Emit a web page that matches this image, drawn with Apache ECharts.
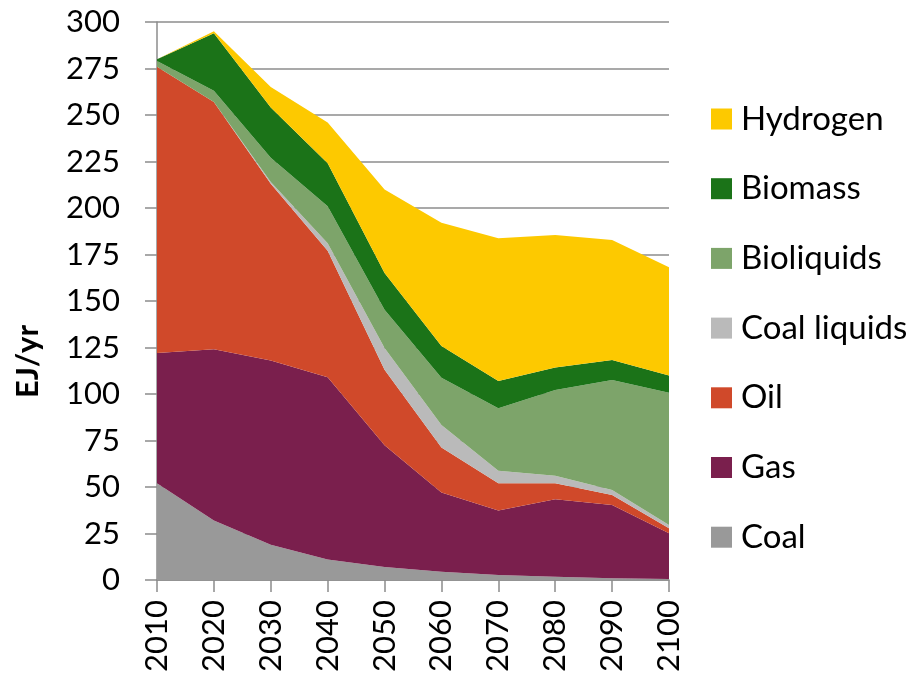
<!DOCTYPE html>
<html>
<head>
<meta charset="utf-8">
<script src="https://cdn.jsdelivr.net/npm/echarts@6/dist/echarts.min.js"></script>
<style>
  html, body { margin: 0; padding: 0; background: #fff; }
  #chart { width: 916px; height: 680px; }
</style>
</head>
<body>
<div id="chart"></div>
<script>
const years = ['2010', '2020', '2030', '2040', '2050', '2060', '2070', '2080', '2090', '2100'];

const coal = [52, 32, 19, 11, 7, 4.5, 2.7, 1.8, 0.9, 0.5];
const gas = [70, 92, 99, 98, 65.5, 42.6, 34.6, 41.6, 39.4, 24.6];
const oil = [154, 133, 95, 68, 40.5, 24.2, 14.7, 8.6, 5.4, 2.7];
const coalLiquids = [0, 0, 1, 4, 11.7, 12, 6.8, 4.1, 2.7, 1.8];
const bioliquids = [3, 6, 13, 20, 20.6, 25.5, 33.5, 46.1, 59.1, 71.1];
const biomass = [1, 31, 27, 23, 19.7, 17, 14.7, 12.1, 10.8, 9.2];
const hydrogen = [0, 1, 11, 22, 45, 66.3, 76.7, 71.2, 64.5, 58.2];

const font = 'Lato, "Open Sans", sans-serif';

const layers = [
  { name: 'Coal', data: coal, color: '#999999' },
  { name: 'Gas', data: gas, color: '#7a1f4d' },
  { name: 'Oil', data: oil, color: '#d0492a' },
  { name: 'Coal liquids', data: coalLiquids, color: '#bababa' },
  { name: 'Bioliquids', data: bioliquids, color: '#7da46a' },
  { name: 'Biomass', data: biomass, color: '#1b7318' },
  { name: 'Hydrogen', data: hydrogen, color: '#fdc900' }
];

const chart = echarts.init(document.getElementById('chart'));
chart.setOption({
  animation: false,
  grid: { left: 157, right: 247, top: 22, bottom: 100 },
  legend: {
    orient: 'vertical',
    left: 711,
    top: 102.5,
    padding: 0,
    itemWidth: 21,
    itemHeight: 21,
    itemGap: 36.7,
    icon: 'rect',
    data: layers.map((l) => l.name).reverse(),
    textStyle: { fontFamily: font, fontSize: 33, color: '#000', lineHeight: 33, padding: [0, 0, 0, 4] }
  },
  xAxis: {
    type: 'category',
    data: years,
    boundaryGap: false,
    axisLine: { lineStyle: { color: '#8c8c8c', width: 1.5 } },
    axisTick: { show: true, length: 12, alignWithLabel: true, lineStyle: { color: '#8c8c8c', width: 1.5 } },
    axisLabel: { rotate: 90, margin: 20, fontFamily: font, fontSize: 31, color: '#000' },
    splitLine: { show: false }
  },
  yAxis: {
    type: 'value',
    min: 0,
    max: 300,
    interval: 25,
    axisLine: { show: true, lineStyle: { color: '#8c8c8c', width: 1.5 } },
    axisTick: { show: true, length: 12, lineStyle: { color: '#8c8c8c', width: 1.5 } },
    axisLabel: { margin: 37, fontFamily: font, fontSize: 31, color: '#000' },
    splitLine: { lineStyle: { color: '#8c8c8c', width: 1.5 } }
  },
  graphic: [{
    type: 'text',
    left: 12,
    top: 325,
    rotation: Math.PI / 2,
    style: { text: 'EJ/yr', fontFamily: font, fontSize: 31, fontWeight: 'bold', fill: '#000' }
  }],
  series: layers.map((l) => ({
    name: l.name,
    type: 'line',
    stack: 'total',
    data: l.data,
    symbol: 'none',
    lineStyle: { width: 0 },
    itemStyle: { color: l.color },
    areaStyle: { color: l.color, opacity: 1 }
  }))
});
</script>
</body>
</html>
